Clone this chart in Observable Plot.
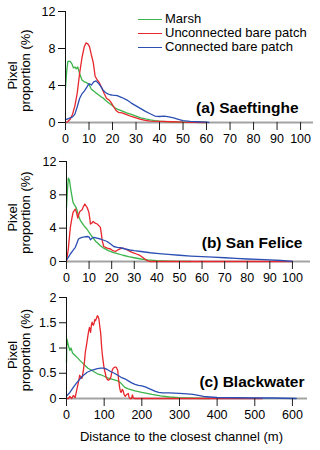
<!DOCTYPE html>
<html><head><meta charset="utf-8">
<script src="https://cdn.jsdelivr.net/npm/d3@7"></script>
<script src="https://cdn.jsdelivr.net/npm/@observablehq/plot@0.6"></script>
<style>
body{margin:0;background:#fff;font-family:"Liberation Sans",Arial,sans-serif;}
#chart{position:relative;width:320px;height:450px;background:#fff;}
#chart svg{display:block;}
.legend{position:absolute;left:138px;top:12px;font-size:13px;color:#000;}
.legend div{height:14px;line-height:14px;display:flex;align-items:center;white-space:nowrap;}
.legend span.sw{display:inline-block;width:24px;height:0;border-top:1.5px solid;margin-right:3px;}
</style></head>
<body>
<div id="chart"></div>
<script>
const seriesNames = ["Marsh", "Unconnected bare patch", "Connected bare patch"];
const seriesColors = ["#3cb44b", "#e8262d", "#2b4fb3"];
const panelTitles = ["(a) Saeftinghe", "(b) San Felice", "(c) Blackwater"];
const xTicksAB = [0,10,20,30,40,50,60,70,80,90,100];
const xTicksC = [0,100,200,300,400,500,600];
const yTicksAB = [0,4,8,12];
const yTicksC = [0,0.5,1,1.5,2];
const yLabel1 = "Pixel";
const yLabel2 = "proportion (%)";
const xLabel = "Distance to the closest channel (m)";

// (a) Saeftinghe
const aMarshX = [0,0.5,1,2,2.8,3.4,4,4.6,5.2,6,7,8,9,10,11,12,13,14,15,16,17,18,19,20,21,22,24,26,28,30,32,34,36,38,40,43,46,50,55,60];
const aMarshY = [3.8,5.5,6.6,6.6,6.3,5.9,6.0,5.8,6.0,5.3,4.6,4.4,4.3,4.1,3.6,3.4,3.2,3.0,2.8,2.65,2.4,2.2,2.0,1.8,1.6,1.45,1.25,1.05,0.88,0.7,0.5,0.38,0.28,0.2,0.15,0.1,0.06,0.03,0.01,0];
const aUnconX = [0,1,2,3,4,5,6,7,8,8.7,9.5,10.2,11,11.8,12.6,13.5,14.4,15.5,16.5,17.5,18.5,19.3,20.5,21.5,22.5,24,26,28,30,32,34,36,40,45,50,55,60];
const aUnconY = [0,0.1,0.35,0.9,1.8,3.2,5.3,7.0,8.2,8.6,8.5,8.2,7.3,6.5,5.0,4.6,4.3,3.7,3.1,2.6,2.45,2.2,1.7,1.3,1.1,1.05,0.85,0.65,0.5,0.35,0.22,0.15,0.12,0.08,0.03,0.01,0];
const aConX = [0,1,2,3,4,5,6,7,8,9,10,11,12,13,14,15,16,17,18,19,20,22,24,26,28,30,32,34,36,38,40,42,44,46,48,50,53,56,60,61];
const aConY = [0.3,0.4,0.5,0.6,0.9,1.7,2.6,3.1,3.4,3.8,4.2,4.05,4.4,4.5,4.25,3.9,3.5,3.25,3.1,3.0,2.95,2.9,2.7,2.45,2.1,1.8,1.5,1.2,0.95,0.7,0.65,0.68,0.6,0.5,0.35,0.2,0.12,0.08,0.03,0];

// (b) San Felice
const bMarshX = [0,0.4,0.8,1.3,1.7,2.3,2.9,3.5,4.4,5.3,6.2,7.7,9,10,11,12,13,14,15,16.5,18.5,20.5,22.5,25,27.5,30,33,36,40,45,50,55];
const bMarshY = [6.5,8.5,10.0,9.8,9.0,8.0,7.1,6.8,6.4,5.5,4.9,4.3,3.9,3.5,3.1,2.75,2.4,2.15,1.9,1.6,1.3,1.1,0.95,0.75,0.58,0.45,0.3,0.2,0.1,0.05,0.02,0];
const bUnconX = [0,0.8,1.7,2.4,2.9,3.9,4.5,5,5.5,5.9,6.9,7.5,8.1,9.1,9.9,10.3,10.6,11.2,11.8,12.7,13.6,14.3,15,15.5,15.8,16.5,18,19.5,20.5,21.7,22.8,23.9,25,26.1,27.5,29,31,32.7,34.2,35.7,37,40,100];
const bUnconY = [0,1.5,4.1,5.2,5.9,6.3,5.8,5.2,5.7,6.0,6.2,6.6,6.9,6.5,5.9,5.2,4.5,4.6,4.8,4.6,4.5,4.3,4.1,3.2,2.5,1.8,1.6,1.5,1.3,1.2,1.4,1.55,1.6,1.5,1.3,1.1,0.9,0.7,0.4,0.1,0,0,0];
const bConX = [0,0.8,1.7,2.8,3.9,4.6,5.3,6,6.9,8,9.1,10,10.6,11.3,12.1,13.5,15,16.5,18,19.5,20.9,22.5,23.9,26,28,30,33,37,41,45,50,55,60,65,70,75,80,85,90,95,100];
const bConY = [0.2,0.5,0.9,1.3,1.7,2.2,2.7,2.8,2.9,2.95,3.0,2.95,2.6,2.8,2.9,2.8,2.7,2.55,2.4,2.1,1.8,1.7,1.65,1.5,1.38,1.3,1.2,1.05,0.95,0.85,0.75,0.65,0.58,0.52,0.45,0.38,0.3,0.25,0.2,0.12,0.02];

// (c) Blackwater
const cMarshX = [0,1,5,9,12,16,23,30,36,43,50,57,64,73,82,91,100,109,118,127,136,145,155,164,173,182,200,227,250,273,300,340,380];
const cMarshY = [0.72,1.18,1.05,0.95,1.0,0.9,0.85,0.8,0.75,0.7,0.65,0.6,0.57,0.53,0.49,0.47,0.44,0.41,0.39,0.37,0.35,0.3,0.22,0.19,0.17,0.15,0.12,0.08,0.05,0.03,0.015,0.005,0];
const cUnconX = [0,5,9,14,18,23,27,31,35,38,41,45,48,50,53,55,58,61,64,66,68,71,73,75,77,80,82,84,86,88,91,93,95,98,100,103,105,108,111,115,118,121,124,128,132,136,138,141,143,145,148,150,153,156,160,164,166,168,173,175,177,180,520];
const cUnconY = [0,0,0.04,0,0.06,0.02,0.16,0.3,0.46,0.42,0.4,0.56,0.75,0.92,1.05,1.15,1.3,1.41,1.31,1.45,1.51,1.45,1.48,1.56,1.54,1.6,1.64,1.62,1.58,1.45,1.28,1.05,0.88,0.7,0.59,0.5,0.43,0.38,0.36,0.38,0.43,0.55,0.6,0.62,0.62,0.56,0.4,0.22,0.15,0.12,0.18,0.16,0.08,0.04,0.08,0.1,0.03,0,0,0.07,0.02,0,0];
const cConX = [0,9,18,27,36,45,55,64,73,82,91,100,109,118,127,136,145,155,164,173,182,191,200,209,218,227,236,245,255,273,300,320,336,350,364,380,400,450,500,550,610];
const cConY = [0.05,0.12,0.22,0.31,0.39,0.46,0.52,0.55,0.57,0.59,0.6,0.6,0.57,0.53,0.5,0.46,0.42,0.39,0.35,0.31,0.28,0.26,0.25,0.23,0.2,0.17,0.14,0.12,0.11,0.11,0.1,0.09,0.08,0.06,0.04,0.03,0.02,0.015,0.01,0.01,0];

function rows(xs, ys, s) { return xs.map((x, i) => ({x, y: ys[i], series: s})); }
function build(triples) {
  return triples.flatMap(([xs, ys], i) => rows(xs, ys, seriesNames[i]));
}

const font = "Liberation Sans, Arial, sans-serif";

function panel(o) {
  const marks = [
    Plot.ruleY([0], {stroke: "#a3a3a3", strokeWidth: 1.8}),
    Plot.lineY(o.data, {x: "x", y: "y", stroke: "series", strokeWidth: 1.3}),
    Plot.ruleX([0], {y1: o.yDomain[0], y2: o.yDomain[1], stroke: "#111"}),
    Plot.axisY({ticks: o.yTicks, tickSize: 7, tickPadding: 3, label: null, fontSize: 12.5, stroke: "#111", tickFormat: d => String(d)}),
    Plot.axisX({ticks: o.xTicks, tickSize: 8, tickPadding: 4, label: null, fontSize: 12.5, stroke: "#222", tickFormat: d => String(d)}),
    Plot.text([o.title], {text: d => d, frameAnchor: "bottom-right", textAnchor: "end", lineAnchor: "bottom", dx: o.tdx, dy: o.tdy, fontWeight: "bold", fontSize: 15.5}),
    Plot.text([yLabel1], {text: d => d, frameAnchor: "left", rotate: -90, textAnchor: "middle", lineAnchor: "bottom", dx: o.ldx1, dy: o.ldy + 5, fontSize: 13}),
    Plot.text([yLabel2], {text: d => d, frameAnchor: "left", rotate: -90, textAnchor: "middle", lineAnchor: "bottom", dx: o.ldx2, dy: o.ldy, fontSize: 13})
  ];
  if (o.xlabel) marks.push(Plot.text([o.xlabel], {text: d => d, frameAnchor: "bottom", textAnchor: "middle", lineAnchor: "bottom", dx: -5.5, dy: 42, fontSize: 13}));
  return Plot.plot({
    width: 320, height: o.height,
    marginTop: o.mt, marginBottom: o.mb, marginLeft: o.ml, marginRight: o.mr,
    x: {domain: o.xDomain},
    y: {domain: o.yDomain},
    color: {domain: seriesNames, range: seriesColors},
    style: {fontFamily: font, fontSize: "12.5px", color: "#000", background: "#fff", overflow: "visible"},
    marks
  });
}

const chart = document.getElementById("chart");
chart.append(panel({
  data: build([[aMarshX, aMarshY], [aUnconX, aUnconY], [aConX, aConY]]),
  xDomain: [0, 105.5], xTicks: xTicksAB, yDomain: [0, 12], yTicks: yTicksAB,
  height: 145, mt: 11, mb: 23, ml: 65, mr: 7, title: panelTitles[0], tdx: -15, tdy: -10,
  ldx1: -49, ldx2: -36, ldy: 3.5
}));
chart.append(panel({
  data: build([[bMarshX, bMarshY], [bUnconX, bUnconY], [bConX, bConY]]),
  xDomain: [0, 108], xTicks: xTicksAB, yDomain: [0, 12], yTicks: yTicksAB,
  height: 142, mt: 16, mb: 26, ml: 66, mr: 10, title: panelTitles[1], tdx: -8, tdy: -14,
  ldx1: -50, ldx2: -37, ldy: 1
}));
chart.append(panel({
  data: build([[cMarshX, cMarshY], [cUnconX, cUnconY], [cConX, cConY]]),
  xDomain: [0, 640], xTicks: xTicksC, yDomain: [0, 2], yTicks: yTicksC,
  height: 163, mt: 10, mb: 52, ml: 66, mr: 13, title: panelTitles[2], tdx: -3, tdy: -12,
  ldx1: -50, ldx2: -37, ldy: 2, xlabel: xLabel
}));

const legend = document.createElement("div");
legend.className = "legend";
seriesNames.forEach((n, i) => {
  const row = document.createElement("div");
  const sw = document.createElement("span");
  sw.className = "sw";
  sw.style.borderTopColor = seriesColors[i];
  row.append(sw, document.createTextNode(n));
  legend.append(row);
});
chart.append(legend);
</script>
</body></html>
